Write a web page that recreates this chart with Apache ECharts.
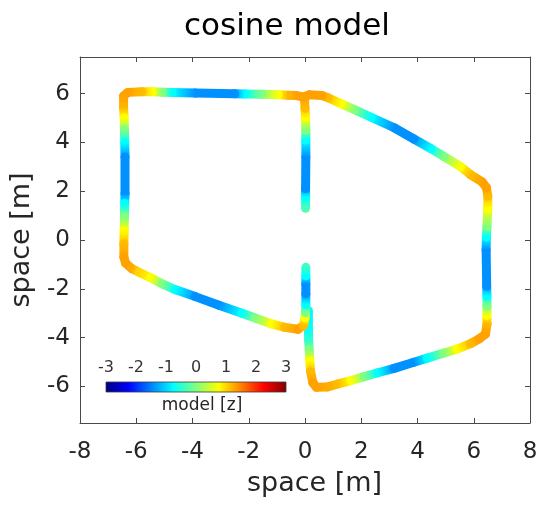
<!DOCTYPE html>
<html>
<head>
<meta charset="utf-8">
<script src="https://cdn.jsdelivr.net/npm/echarts@6/dist/echarts.min.js"></script>
<style>
  html, body { margin: 0; padding: 0; background: #ffffff; }
  #chart { width: 546px; height: 505px; }
</style>
</head>
<body>
<div id="chart"></div>
<script>
// Left loop: from the middle gap up to the top, round the left side, back up to the gap.
const leftLoopX = [0.02, 0.02, 0.02, 0.03, 0.03, 0.03, 0.02, 0.0, -0.02, -0.3, -0.6, -0.95, -1.54, -2.14, -2.5, -3.9, -4.72, -5.07, -5.42, -5.8, -6.3, -6.45, -6.45, -6.43, -6.42, -6.41, -6.4, -6.4, -6.41, -6.42, -6.43, -6.44, -6.44, -6.38, -6.15, -5.9, -5.48, -5.07, -4.6, -3.9, -3.06, -2.24, -1.77, -1.18, -0.72, -0.25, -0.05, 0.0, 0.02, 0.03, 0.03, 0.03, 0.03, 0.03];
const leftLoopY = [1.3, 1.77, 2.1, 3.4, 4.1, 4.5, 5.0, 5.4, 5.85, 5.92, 5.93, 5.95, 5.97, 5.98, 5.99, 6.02, 6.05, 6.06, 6.08, 6.08, 6.05, 5.9, 5.45, 5.0, 4.52, 3.98, 3.4, 1.9, 1.5, 0.94, 0.39, -0.15, -0.7, -0.95, -1.18, -1.32, -1.55, -1.8, -2.04, -2.32, -2.67, -3.0, -3.2, -3.44, -3.58, -3.66, -3.5, -3.19, -2.98, -2.64, -2.2, -1.8, -1.47, -1.12];
const leftLoopZ = [-0.3, -0.75, -1.4, -1.4, -0.75, 0.0, 0.75, 1.15, 1.3, 1.3, 1.2, 0.75, 0.0, -0.75, -1.4, -1.4, -0.75, 0.0, 0.75, 1.15, 1.3, 1.3, 1.2, 0.75, 0.0, -0.75, -1.4, -1.4, -0.75, 0.0, 0.75, 1.15, 1.3, 1.3, 1.25, 1.0, 0.75, 0.0, -0.75, -1.4, -1.4, -0.75, 0.0, 0.75, 1.15, 1.3, 1.15, 0.75, 0.0, -0.75, -1.4, -1.4, -0.75, -0.4];

// Right loop: from the lower middle down, round the right side, into the top junction.
const rightLoopX = [0.12, 0.12, 0.13, 0.15, 0.17, 0.2, 0.28, 0.4, 0.8, 1.17, 1.64, 2.1, 2.59, 3.17, 3.87, 4.35, 4.94, 5.41, 5.88, 6.2, 6.42, 6.47, 6.47, 6.47, 6.47, 6.46, 6.44, 6.45, 6.47, 6.5, 6.5, 6.45, 6.3, 5.88, 5.53, 4.93, 4.47, 3.87, 3.17, 2.35, 1.76, 1.29, 0.82, 0.6, 0.15, 0.0];
const rightLoopY = [-2.9, -3.6, -4.1, -4.5, -4.95, -5.4, -5.85, -6.03, -6.02, -5.9, -5.76, -5.6, -5.44, -5.26, -5.01, -4.84, -4.63, -4.47, -4.25, -4.05, -3.85, -3.45, -3.1, -2.7, -2.3, -1.9, -0.4, 0.12, 0.55, 1.3, 1.8, 2.15, 2.38, 2.68, 3.01, 3.43, 3.75, 4.14, 4.6, 5.03, 5.34, 5.58, 5.83, 5.92, 5.95, 5.88];
const rightLoopZ = [-0.8, -0.75, -0.5, 0.0, 0.75, 1.15, 1.3, 1.3, 1.25, 1.15, 0.75, 0.0, -0.75, -1.4, -1.4, -0.75, 0.0, 0.75, 1.15, 1.3, 1.3, 1.2, 0.75, 0.0, -0.75, -1.4, -1.4, -0.75, 0.0, 0.75, 1.15, 1.3, 1.3, 1.15, 0.75, 0.0, -0.75, -1.4, -1.4, -0.75, 0.0, 0.75, 1.15, 1.3, 1.3, 1.3];

const xTicks = [-8, -6, -4, -2, 0, 2, 4, 6, 8];
const yTicks = [-6, -4, -2, 0, 2, 4, 6];
const colorbarTicks = [-3, -2, -1, 0, 1, 2, 3];
const colorRange = [-3, 3];

// MATLAB-style jet colormap
function jet(v) {
  let t = (v - colorRange[0]) / (colorRange[1] - colorRange[0]);
  t = Math.max(0, Math.min(1, t));
  const c = (a) => Math.round(255 * Math.max(0, Math.min(1, 1.5 - Math.abs(4 * t - a))));
  return 'rgb(' + c(3) + ',' + c(2) + ',' + c(1) + ')';
}

function toSegments(xs, ys, zs) {
  const segs = [];
  for (let i = 0; i < xs.length - 1; i++) {
    segs.push([xs[i], ys[i], xs[i + 1], ys[i + 1], zs[i], zs[i + 1]]);
  }
  return segs;
}

function renderPath(params, api) {
  const p1 = api.coord([api.value(0), api.value(1)]);
  const p2 = api.coord([api.value(2), api.value(3)]);
  const z1 = api.value(4), z2 = api.value(5);
  const stops = [];
  for (let k = 0; k <= 10; k++) {
    const f = k / 10;
    stops.push({ offset: f, color: jet(z1 + (z2 - z1) * f) });
  }
  const same = Math.abs(p1[0] - p2[0]) < 0.01 && Math.abs(p1[1] - p2[1]) < 0.01;
  return {
    type: 'line',
    shape: { x1: p1[0], y1: p1[1], x2: p2[0], y2: p2[1] },
    style: {
      stroke: same ? jet(z1) : new echarts.graphic.LinearGradient(p1[0], p1[1], p2[0], p2[1], stops, true),
      lineWidth: 9,
      lineCap: 'round'
    }
  };
}

function renderColorbar(params, api) {
  const a = api.coord([api.value(0), 0]);
  const b = api.coord([api.value(1), 1]);
  const stops = [];
  for (let k = 0; k <= 24; k++) {
    const f = k / 24;
    stops.push({ offset: f, color: jet(colorRange[0] + (colorRange[1] - colorRange[0]) * f) });
  }
  return {
    type: 'rect',
    shape: { x: a[0], y: b[1], width: b[0] - a[0], height: a[1] - b[1] },
    style: {
      fill: new echarts.graphic.LinearGradient(0, 0, 1, 0, stops),
      stroke: '#3a3a3a',
      lineWidth: 0.8
    }
  };
}

const FONT = 'DejaVu Sans';
const axisGray = '#4a4a4a';
const textGray = '#262626';

const chart = echarts.init(document.getElementById('chart'), null, { renderer: 'canvas' });

chart.setOption({
  animation: false,
  backgroundColor: '#ffffff',
  title: {
    text: 'cosine model',
    left: 282,
    top: 6,
    textAlign: 'center',
    textStyle: { fontFamily: FONT, fontSize: 31, fontWeight: 'normal', color: '#000000' }
  },
  grid: [
    { left: 77, right: 16, top: 57, bottom: 82, containLabel: false },
    { left: 106, width: 180, top: 382, height: 10, containLabel: false }
  ],
  xAxis: [
    {
      gridIndex: 0, type: 'value', min: -8, max: 8, interval: 2, position: 'bottom',
      name: 'space [m]', nameLocation: 'middle', nameGap: 47,
      nameTextStyle: { fontFamily: FONT, fontSize: 27, color: textGray, padding: [0, 0, 0, 19] },
      axisLine: { show: true, onZero: false, lineStyle: { color: axisGray, width: 1 } },
      axisTick: { show: true, inside: true, length: 5, lineStyle: { color: axisGray } },
      axisLabel: { show: true, margin: 18, fontFamily: FONT, fontSize: 23, color: textGray,
        customValues: xTicks },
      splitLine: { show: false }
    },
    {
      gridIndex: 0, type: 'value', min: -8, max: 8, interval: 2, position: 'top',
      axisLine: { show: true, onZero: false, lineStyle: { color: axisGray, width: 1 } },
      axisTick: { show: true, inside: true, length: 5, lineStyle: { color: axisGray } },
      axisLabel: { show: false },
      splitLine: { show: false }
    },
    {
      gridIndex: 1, type: 'value', min: colorRange[0], max: colorRange[1], interval: 1, position: 'top',
      axisLine: { show: false },
      axisTick: { show: false },
      axisLabel: { show: true, margin: 6, fontFamily: FONT, fontSize: 16, color: '#333333',
        customValues: colorbarTicks },
      splitLine: { show: false }
    },
    {
      gridIndex: 1, type: 'value', min: colorRange[0], max: colorRange[1], position: 'bottom',
      name: 'model [z]', nameLocation: 'middle', nameGap: 5,
      nameTextStyle: { fontFamily: FONT, fontSize: 17, color: '#262626', padding: [0, 0, 0, 12] },
      axisLine: { show: false },
      axisTick: { show: false },
      axisLabel: { show: false },
      splitLine: { show: false }
    }
  ],
  yAxis: [
    {
      gridIndex: 0, type: 'value', min: -7.5, max: 7.5, position: 'left',
      name: 'space [m]', nameLocation: 'middle', nameGap: 45,
      nameTextStyle: { fontFamily: FONT, fontSize: 27, color: textGray },
      axisLine: { show: true, onZero: false, lineStyle: { color: axisGray, width: 1 } },
      axisTick: { show: true, inside: true, length: 5, lineStyle: { color: axisGray }, customValues: yTicks },
      axisLabel: { show: true, margin: 10, fontFamily: FONT, fontSize: 23, color: textGray, customValues: yTicks },
      splitLine: { show: false }
    },
    {
      gridIndex: 0, type: 'value', min: -7.5, max: 7.5, position: 'right',
      axisLine: { show: true, onZero: false, lineStyle: { color: axisGray, width: 1 } },
      axisTick: { show: true, inside: true, length: 5, lineStyle: { color: axisGray }, customValues: yTicks },
      axisLabel: { show: false },
      splitLine: { show: false }
    },
    {
      gridIndex: 1, type: 'value', min: 0, max: 1, show: false
    }
  ],
  series: [
    {
      type: 'custom', name: 'right loop', xAxisIndex: 0, yAxisIndex: 0,
      renderItem: renderPath,
      encode: { x: [0, 2], y: [1, 3] },
      data: toSegments(rightLoopX, rightLoopY, rightLoopZ),
      clip: false, silent: true
    },
    {
      type: 'custom', name: 'left loop', xAxisIndex: 0, yAxisIndex: 0,
      renderItem: renderPath,
      encode: { x: [0, 2], y: [1, 3] },
      data: toSegments(leftLoopX, leftLoopY, leftLoopZ),
      clip: false, silent: true
    },
    {
      type: 'custom', name: 'colorbar', xAxisIndex: 2, yAxisIndex: 2,
      renderItem: renderColorbar,
      encode: { x: [0, 1] },
      data: [colorRange],
      silent: true
    }
  ]
});
</script>
</body>
</html>
